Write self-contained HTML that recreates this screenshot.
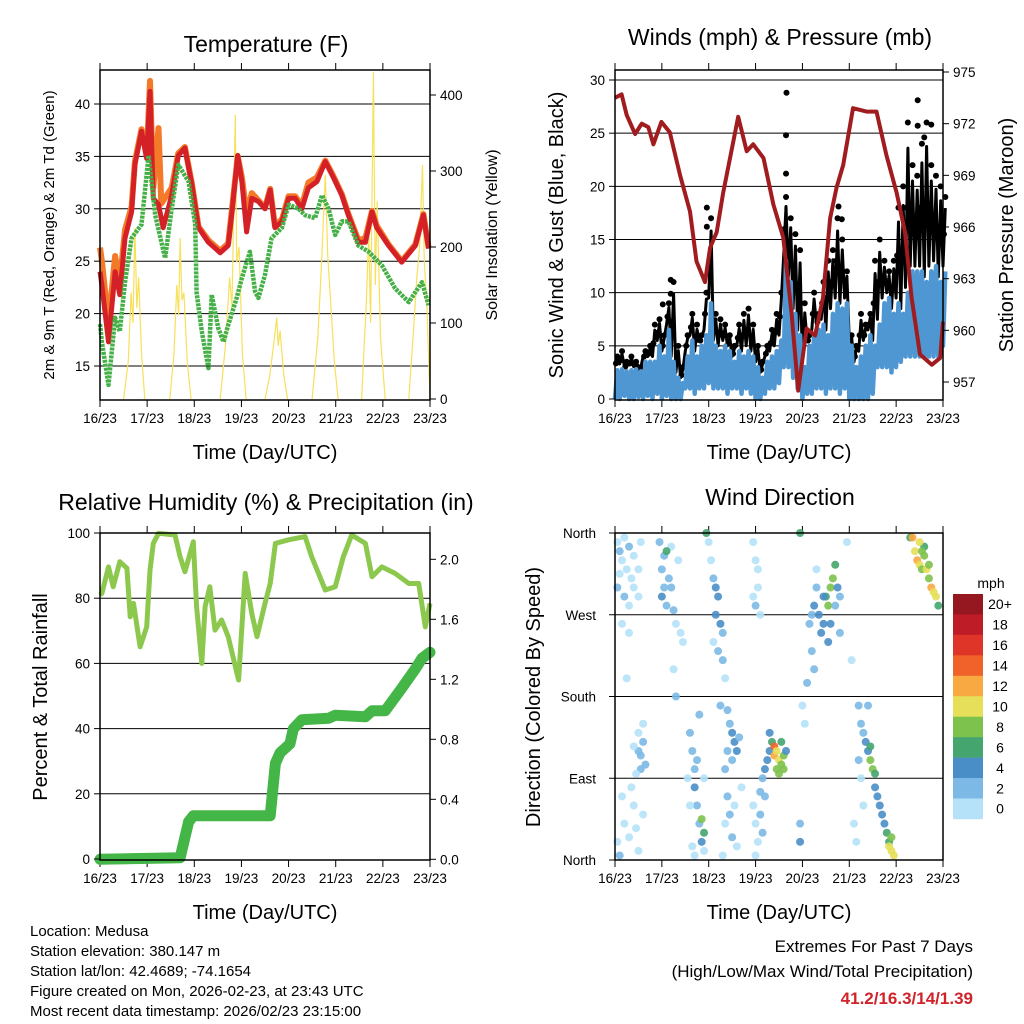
<!DOCTYPE html>
<html><head><meta charset="utf-8"><style>
html,body{margin:0;padding:0;background:#fff}
svg{display:block;font-family:"Liberation Sans",Arial,sans-serif}
</style></head><body>
<svg id="svg" width="1024" height="1024" viewBox="0 0 1024 1024">
<g id="p1"></g>
<g id="p2"></g>
<g id="p3"></g>
<g id="p4"></g>
<g font-size="15" fill="#000">
<text x="30" y="936">Location: Medusa</text>
<text x="30" y="956">Station elevation: 380.147 m</text>
<text x="30" y="976">Station lat/lon: 42.4689; -74.1654</text>
<text x="30" y="996">Figure created on Mon, 2026-02-23, at 23:43 UTC</text>
<text x="30" y="1016">Most recent data timestamp: 2026/02/23 23:15:00</text>
</g>
<g text-anchor="end">
<text x="973" y="952" font-size="17">Extremes For Past 7 Days</text>
<text x="973" y="977" font-size="17">(High/Low/Max Wind/Total Precipitation)</text>
<text x="973" y="1004" font-size="17" font-weight="bold" fill="#d0232a">41.2/16.3/14/1.39</text>
</g>
</svg>
<script>
const dayLabels=["16/23","17/23","18/23","19/23","20/23","21/23","22/23","23/23"];
const tempTicks=[15,20,25,30,35,40];
const solarTicks=[0,100,200,300,400];
const red2m=[[0,24],[0.04,22.7],[0.18,17.3],[0.32,24],[0.42,21.8],[0.53,27.2],[0.67,29.7],[0.74,34.2],[0.88,37.4],[0.99,34.8],[1.06,41.2],[1.13,31],[1.24,30.4],[1.34,28.2],[1.52,31.3],[1.66,35.1],[1.8,35.8],[1.95,32.3],[2.09,28.2],[2.3,26.8],[2.55,25.8],[2.72,26.5],[2.8,29.7],[2.92,35.1],[3.01,32.6],[3.11,27.8],[3.22,31],[3.36,30.7],[3.5,30],[3.61,31.8],[3.71,28.2],[3.86,28.8],[4.0,31],[4.14,31],[4.28,30],[4.42,32],[4.6,32.6],[4.78,34.5],[4.95,33],[5.13,31.3],[5.27,29.4],[5.48,26.8],[5.63,26.8],[5.77,29.7],[5.87,28.2],[6.12,26.5],[6.4,24.9],[6.69,26.5],[6.86,29.4],[6.97,26.2]];
const orange9m=[[0,26.3],[0.04,25],[0.18,19],[0.32,25.5],[0.42,23],[0.53,28],[0.67,30.2],[0.74,34.5],[0.88,37.6],[0.99,35],[1.06,42.2],[1.13,32],[1.24,37.7],[1.3,30.5],[1.52,32],[1.66,35.3],[1.8,35.9],[1.95,32.4],[2.09,28.3],[2.3,27],[2.55,26],[2.72,26.7],[2.8,30],[2.92,35],[3.01,33],[3.11,29.5],[3.22,31.5],[3.36,30.8],[3.5,30.1],[3.61,31.9],[3.71,28.4],[3.86,29],[4.0,31.2],[4.14,31.2],[4.28,30.3],[4.42,32.5],[4.6,33],[4.78,34.6],[4.95,33.1],[5.13,31.4],[5.27,29.5],[5.48,27],[5.63,27.2],[5.77,29.8],[5.87,28.4],[6.12,26.6],[6.4,25],[6.69,26.6],[6.86,29.5],[6.97,26.3]];
const dew2m=[[0,19],[0.04,17.3],[0.18,13.2],[0.32,19.6],[0.42,18.3],[0.53,23],[0.67,27.2],[0.88,28.5],[1.03,35.1],[1.17,29.4],[1.38,25.3],[1.52,30],[1.66,34.2],[1.88,32.6],[2.02,28.5],[2.05,22],[2.16,18.3],[2.3,14.8],[2.37,21.8],[2.51,18.6],[2.62,17.3],[2.72,18.9],[2.9,21.5],[3.01,23.4],[3.18,25.9],[3.29,22.1],[3.36,21.5],[3.5,23.7],[3.64,27.2],[3.86,28.2],[4.0,30.4],[4.21,30],[4.35,29.4],[4.56,29.1],[4.71,31.3],[4.85,30],[4.99,27.5],[5.13,28.8],[5.27,28.8],[5.48,26.5],[5.7,25.9],[5.98,24.6],[6.26,22.4],[6.55,21.1],[6.83,23],[6.97,20.8]];
const solarDays=[
[[0.5,0],[0.6,50],[0.66,140],[0.7,100],[0.74,225],[0.78,120],[0.82,160],[0.88,60],[0.95,0]],
[[1.48,0],[1.57,60],[1.63,150],[1.67,110],[1.7,212],[1.74,130],[1.78,140],[1.85,50],[1.93,0]],
[[2.55,0],[2.66,70],[2.75,160],[2.8,120],[2.87,374],[2.9,180],[2.95,200],[3.02,60],[3.1,0]],
[[3.5,0],[3.6,30],[3.7,80],[3.75,107],[3.78,70],[3.82,90],[3.9,30],[3.98,0]],
[[4.5,0],[4.62,80],[4.7,180],[4.78,295],[4.83,190],[4.9,120],[4.97,50],[5.05,0]],
[[5.55,0],[5.65,130],[5.7,220],[5.74,100],[5.8,430],[5.84,150],[5.88,260],[5.95,80],[6.05,0]],
[[6.55,0],[6.65,90],[6.72,160],[6.78,200],[6.84,308],[6.88,180],[6.93,130],[7.0,0]]];
const windTicks=[0,5,10,15,20,25,30];
const presTicks=[957,960,963,966,969,972,975];
const pressure=[[0,973.5],[0.14,973.7],[0.25,972.5],[0.43,971.4],[0.57,972],[0.71,971.8],[0.82,970.8],[0.99,972.1],[1.17,971.5],[1.39,969],[1.6,966.9],[1.74,964],[1.92,962.8],[2.03,964.8],[2.17,965.7],[2.31,968],[2.63,972.4],[2.81,970.4],[2.95,970.8],[3.17,970],[3.38,967.3],[3.59,965.4],[3.77,960.9],[3.91,956.5],[4.09,960.1],[4.27,959.7],[4.44,961.9],[4.59,966.5],[4.73,968.3],[4.87,969.6],[5.08,972.9],[5.37,972.7],[5.58,972.7],[5.79,970.2],[6.01,968],[6.19,965.7],[6.33,961.9],[6.51,958.6],[6.76,958],[6.94,958.4],[7.0,960.5]];
const windHi=[2.7,2.8,2.6,2.7,2.8,2.6,3.5,3.5,3.5,5,4,6.5,3.5,2,1.5,4,5.5,4,5,6,9,5,4.5,5,4.5,3.5,4.5,4,4.5,4,3,2,3.5,4,4.5,5.5,13,11,8,6,3,5,6,6.5,7,6,8,9,8.5,9,5,3,4,5,6,5,7,9,9.5,8,9,8,10,12,12,12,11,12,12.5,11,12];
const windLo=[0,0,0.3,0,0,0.2,0,0.3,0,0.5,0,0.3,0,0,0,1,1,0.5,1,1,1.5,1,1,1,0.5,1,1,0.5,1,0.5,0,0,0.5,1,1,1.5,3,3,2,1,0,0.5,0.5,1,1,0.5,1,1,0.5,1,0,0,0,0,0,0.5,3,3,3,2.5,3,3.5,4,4,4,4,4,4,4,4,5];
const gustHi=[4,4.5,3.5,4,3.5,3,4.5,5,7,7.5,6,9,11,5,3,6,8,7,6,10,17,8,7.5,7,6,5,7,8,8.5,7,5,3.5,5,6.5,8,10,19,17,15.5,14,9,6,10,8,11,13,14,17,15,12,6,5,8,7,8,13,15,13,12,13,18,20,26,22,21,24,26,22,21,20,19];
const gustOutliers=[[1.19,11.2],[1.19,9.9],[1.96,18],[1.96,16.2],[3.66,28.8],[3.65,24.8],[3.65,21.2],[6.46,28.1],[6.46,25.7],[6.75,25.8],[6.6,24.6],[4.77,18.1],[4.84,16.9],[1.02,8.9]];
const rhTicks=[0,20,40,60,80,100];
const precipTicks=[0.0,0.4,0.8,1.2,1.6,2.0];
const rh=[[0,81],[0.04,81.5],[0.18,89.6],[0.28,83.5],[0.42,91.2],[0.57,89.2],[0.64,74.3],[0.71,78.4],[0.85,65.1],[0.99,71.2],[1.06,88.6],[1.13,96.8],[1.24,99.9],[1.59,99.4],[1.7,92.7],[1.8,88.1],[1.98,97.3],[2.05,77.4],[2.16,60],[2.23,77.4],[2.33,83.5],[2.44,70.2],[2.58,73.3],[2.72,68.2],[2.94,54.9],[3.08,87.6],[3.22,75.3],[3.33,68.2],[3.5,78.4],[3.61,84.5],[3.72,96.8],[4.0,97.9],[4.35,98.9],[4.49,92.7],[4.78,82.5],[4.99,83.5],[5.16,92.7],[5.34,99.4],[5.63,96.8],[5.77,86.6],[5.98,89.6],[6.26,87.6],[6.55,84.5],[6.76,84.5],[6.9,71.2],[7.0,78.4]];
const precip=[[0,0],[1.7,0.01],[1.88,0.25],[1.98,0.29],[3.61,0.29],[3.72,0.64],[3.82,0.71],[4.03,0.77],[4.1,0.87],[4.28,0.93],[4.85,0.94],[4.99,0.96],[5.63,0.95],[5.77,0.99],[6.05,0.99],[6.4,1.14],[6.69,1.27],[6.83,1.34],[7.0,1.38]];
const dirLabels=["North","East","South","West","North"];
const speedBinLabels=["0","2","4","6","8","10","12","14","16","18","20+"];
const dirPoints=[[0.05,350,1],[0.1,340,2],[0.15,330,1],[0.2,355,1],[0.25,320,1],[0.3,345,2],[0.35,310,1],[0.4,335,1],[0.05,300,2],[0.1,315,1],[0.2,290,2],[0.3,280,1],[0.4,300,1],[0.5,290,1],[0.15,260,1],[0.3,250,1],[0.55,350,1],[0.5,320,1],[0.25,200,1],
[0.05,20,1],[0.1,5,2],[0.2,40,1],[0.3,25,1],[0.4,60,1],[0.5,10,1],[0.15,70,1],[0.35,80,1],[0.45,35,1],[0.6,50,1],[0.55,100,2],[0.5,120,3],[0.6,130,3],[0.55,115,2],[0.5,140,1],[0.65,105,2],[0.45,95,1],[0.6,150,1],[0.4,125,1],
[0.95,350,2],[1.0,320,3],[1.05,335,3],[1.0,290,4],[1.05,300,3],[1.1,280,3],[1.15,310,2],[1.2,345,1],[1.25,275,2],[1.3,260,1],[1.35,330,1],[1.4,250,1],[1.1,340,6],[1.2,300,2],[1.45,240,1],[1.25,210,1],[1.3,180,3],
[1.6,140,2],[1.65,120,2],[1.7,100,3],[1.7,80,4],[1.75,60,3],[1.8,40,3],[1.85,20,4],[1.85,45,8],[1.9,30,7],[1.9,10,1],[1.6,60,1],[1.65,15,1],[1.75,110,2],[1.8,160,2],[1.55,90,1],[1.9,90,1],[1.95,360,6],[1.7,5,1],
[2.05,330,1],[2.1,310,3],[2.15,300,4],[2.2,290,4],[2.15,270,4],[2.25,260,4],[2.3,250,3],[2.2,230,2],[2.3,220,2],[2.35,200,1],[2.25,170,2],[2.1,240,1],[2.0,350,1],[2.4,165,3],[2.45,150,3],[2.5,140,4],[2.55,130,4],[2.6,120,4],[2.5,110,3],[2.65,135,3],[2.4,120,2],[2.35,100,2],[2.4,70,2],[2.45,50,2],[2.5,25,3],[2.55,60,1],[2.35,40,1],[2.3,5,1],[2.6,15,1],[2.7,80,1],
[2.95,350,1],[3.0,330,1],[3.05,300,1],[3.0,280,2],[3.05,320,1],[2.95,290,1],[3.1,270,1],
[2.95,60,1],[3.0,40,1],[3.05,20,1],[3.0,5,1],[3.1,75,3],[3.15,90,3],[3.2,100,4],[3.25,110,4],[3.3,120,5],[3.2,70,2],[3.1,50,2],[3.15,30,2],
[3.35,130,7],[3.4,125,14],[3.4,115,12],[3.45,100,9],[3.5,110,10],[3.55,105,9],[3.6,100,8],[3.45,120,11],[3.5,95,9],[3.6,115,8],[3.55,130,7],[3.65,120,5],[3.3,140,4],
[3.95,360,6],[3.95,40,2],[3.95,20,4],[4.05,150,1],[4.0,170,1],[4.1,195,2],
[4.15,260,3],[4.2,270,3],[4.25,280,4],[4.3,300,3],[4.35,270,4],[4.4,250,4],[4.45,260,4],[4.5,290,6],[4.55,280,8],[4.6,300,8],[4.65,310,8],[4.7,325,6],[4.75,300,5],[4.8,290,3],[4.6,260,5],[4.55,240,4],[4.2,230,2],[4.25,210,2],[4.3,320,1],[4.45,290,4],[4.7,280,3],
[4.95,350,1],[4.8,250,2],[5.05,220,1],[5.2,170,2],[5.25,150,3],[5.3,140,3],[5.35,130,4],[5.4,120,5],[5.45,125,7],[5.45,110,8],[5.5,100,8],[5.55,95,7],[5.55,80,4],[5.6,70,4],[5.65,60,4],[5.7,50,5],[5.75,40,4],[5.8,30,6],[5.85,20,7],[5.9,10,10],[5.95,5,11],[5.9,25,8],[5.85,15,11],[5.2,110,2],[5.25,90,1],[5.3,60,1],[5.1,40,1],[5.15,20,1],[5.4,170,2],
[6.3,355,6],[6.35,355,12],[6.4,340,11],[6.45,330,12],[6.5,325,10],[6.55,320,8],[6.6,335,8],[6.65,320,10],[6.7,310,9],[6.75,300,12],[6.8,295,10],[6.85,290,10],[6.9,280,6],[6.6,345,7],[6.5,350,10],[6.55,340,9],[6.7,325,8]];
const binColors=["#b5e2f8","#7cb9e6","#4a8ec8","#45a56f","#7dc24d","#e6df59","#f9a942","#f06229","#df3428","#be1d27","#951820"];

const NS="http://www.w3.org/2000/svg";
function mk(parent,tag,attrs,txt){const e=document.createElementNS(NS,tag);for(const k in attrs)e.setAttribute(k,attrs[k]);if(txt!==undefined)e.textContent=txt;parent.appendChild(e);return e;}
function lin(d0,d1,r0,r1){return v=>r0+(v-d0)/(d1-d0)*(r1-r0);}
function pathOf(pts,xs,ys){return pts.map((p,i)=>(i?"L":"M")+xs(p[0]).toFixed(1)+" "+ys(p[1]).toFixed(1)).join("");}

function frame(g,box,xs,title,titleY){
  const [x0,y0,x1,y1]=box;
  const t=mk(g,"text",{x:(x0+x1)/2+1,y:titleY,"text-anchor":"middle","font-size":"23"},title);
  
  
  for(let i=0;i<8;i++){
    const x=xs(i);
    const a=mk(g,"line",{x1:x,x2:x,y1:y0-7,y2:y0,stroke:"#000","stroke-width":1});
    
    
    const b=mk(g,"line",{x1:x,x2:x,y1:y1,y2:y1+7,stroke:"#000","stroke-width":1});
    
    
    const l=mk(g,"text",{x:x,y:y1+23,"text-anchor":"middle","font-size":"13.5"},dayLabels[i]);
    
    
  }
  const xt=mk(g,"text",{x:(x0+x1)/2,y:y1+59,"text-anchor":"middle","font-size":"20"},"Time (Day/UTC)");
  
  
}
function border(g,box){
  const r=mk(g,"rect",{x:box[0],y:box[1],width:box[2]-box[0],height:box[3]-box[1],fill:"none",stroke:"#000","stroke-width":1.5});
  
  
}
function yAxis(g,ticks,ys,x,side,fmt){
  ticks.forEach(v=>{
    const y=ys(v);
    const tk=mk(g,"line",{x1:x,x2:x+(side<0?-6:6),y1:y,y2:y,stroke:"#000"});
    
    
    const l=mk(g,"text",{x:x+(side<0?-10:10),y:y+5,"text-anchor":side<0?"end":"start","font-size":"13.5"},fmt?fmt(v):String(v));
    
    
  });
}
function grid(g,ticks,ys,x0,x1){
  ticks.forEach(v=>{const y=ys(v);
    const l=mk(g,"line",{x1:x0,x2:x1,y1:y,y2:y,stroke:"#000","stroke-width":1});
    
    });
}
function vtitle(g,x,y,txt,size){
  const t=mk(g,"text",{x:x,y:y,"text-anchor":"middle","font-size":size,transform:`rotate(-90 ${x} ${y})`},txt);
  
  
}

// Panel 1
(function(){
  const g=document.getElementById("p1");const box=[100,70,430,400];
  const xs=lin(0,7,100,430), ys=lin(15,40,366,104), ss=lin(0,400,399,95);
  frame(g,box,xs,"Temperature (F)",52);
  grid(g,tempTicks,ys,100,430);
  solarDays.forEach(d=>{const p=mk(g,"path",{d:pathOf(d,xs,ss),fill:"none",stroke:"#f7e05a","stroke-width":1.2});
    
    });
  const o=mk(g,"path",{d:pathOf(orange9m,xs,ys),fill:"none",stroke:"#f47a2a","stroke-width":6,"stroke-linejoin":"round"});
  
  
  const r=mk(g,"path",{d:pathOf(red2m,xs,ys),fill:"none",stroke:"#d42027","stroke-width":5,"stroke-linejoin":"round"});
  
  
  const dd=mk(g,"path",{d:pathOf(dew2m,xs,ys),fill:"none",stroke:"#45b046","stroke-width":4.5,"stroke-dasharray":"3 1","stroke-linejoin":"round"});
  
  
  border(g,box);
  yAxis(g,tempTicks,ys,100,-1);
  yAxis(g,solarTicks,ss,430,1);
  vtitle(g,54,235,"2m & 9m T (Red, Orange) & 2m Td (Green)",15);
  vtitle(g,497,235,"Solar Insolation (Yellow)",16);
})();

// Panel 2
(function(){
  const g=document.getElementById("p2");const box=[615,70,943,400];
  const xs=lin(0,7,615,943), ys=lin(0,30,399,80), ps=lin(957,975,382,72);
  frame(g,box,xs,"Winds (mph) & Pressure (mb)",45);
  grid(g,windTicks.slice(1),ys,615,943);
  let dz="";windHi.forEach((v,i)=>{const t=i*0.1;dz+=(i?"L":"M")+xs(t).toFixed(1)+" "+ys(v+0.5).toFixed(1)+"L"+xs(t+0.05).toFixed(1)+" "+ys(gustHi[i]*0.85+v*0.15).toFixed(1);});
  const gz=mk(g,"path",{d:dz,fill:"none",stroke:"#000","stroke-width":3,"stroke-linejoin":"round"});
  
  
  gustHi.forEach((v,i)=>{
    const c=mk(g,"circle",{cx:xs(i*0.1+0.05),cy:ys(v),r:3,fill:"#000"});
    
    
    const c2=mk(g,"circle",{cx:xs(i*0.1+0.02),cy:ys((v+windHi[i])/2),r:3,fill:"#000"});
    
    
  });
  gustOutliers.forEach(p=>{const c=mk(g,"circle",{cx:xs(p[0]),cy:ys(p[1]),r:3,fill:"#000"});
    
    });
  let bz="";windLo.forEach((v,i)=>{const t=i*0.1;bz+=(i?"L":"M")+xs(t).toFixed(1)+" "+ys(v).toFixed(1)+"L"+xs(t+0.05).toFixed(1)+" "+ys(windHi[i]).toFixed(1);});
  const bl=mk(g,"path",{d:bz,fill:"none",stroke:"#4f97d2","stroke-width":4.5,"stroke-linejoin":"round"});
  
  
  const pr=mk(g,"path",{d:pathOf(pressure,xs,ps),fill:"none",stroke:"#a01c1f","stroke-width":4,"stroke-linejoin":"round"});
  
  
  border(g,box);
  yAxis(g,windTicks,ys,615,-1);
  yAxis(g,presTicks,ps,943,1);
  vtitle(g,563,235,"Sonic Wind & Gust (Blue, Black)",20);
  vtitle(g,1013,235,"Station Pressure (Maroon)",20);
})();

// Panel 3
(function(){
  const g=document.getElementById("p3");const box=[100,533,430,860];
  const xs=lin(0,7,100,430), ys=lin(0,100,859,533), ps=lin(0,2,859.3,559.3);
  frame(g,box,xs,"Relative Humidity (%) & Precipitation (in)",510);
  grid(g,rhTicks.slice(1,5),ys,100,430);
  const r=mk(g,"path",{d:pathOf(rh,xs,ys),fill:"none",stroke:"#8dc84e","stroke-width":5,"stroke-linejoin":"round"});
  
  
  const p=mk(g,"path",{d:pathOf(precip,xs,ps),fill:"none",stroke:"#44b547","stroke-width":11,"stroke-linejoin":"round","stroke-linecap":"round"});
  
  
  border(g,box);
  yAxis(g,rhTicks,ys,100,-1);
  yAxis(g,precipTicks,ps,430,1,v=>v.toFixed(1));
  vtitle(g,47,697,"Percent & Total Rainfall",20);
})();

// Panel 4
(function(){
  const g=document.getElementById("p4");const box=[615,533,943,860];
  const xs=lin(0,7,615,943), ys=lin(0,360,860,533);
  frame(g,box,xs,"Wind Direction",505);
  grid(g,[90,180,270],ys,615,943);
  dirPoints.forEach(p=>{
    const bin=Math.min(10,Math.floor(p[2]/2));
    const c=mk(g,"circle",{cx:xs(p[0]),cy:ys(p[1]),r:4,fill:binColors[bin],"fill-opacity":0.9});
    
    
  });
  border(g,box);
  [0,90,180,270,360].forEach((v,i)=>{
    const y=ys(v);
    const tk=mk(g,"line",{x1:615,x2:609,y1:y,y2:y,stroke:"#000"});
    
    
    const l=mk(g,"text",{x:596,y:y+5,"text-anchor":"end","font-size":"13.5"},dirLabels[i]);
    
    
  });
  vtitle(g,540,697,"Direction (Colored By Speed)",20);
  const lg=mk(g,"g",{});
  
  
  const u=mk(lg,"text",{x:991,y:588,"text-anchor":"middle","font-size":"14"},"mph");
  
  
  const top=594,h=20.45;
  for(let i=0;i<11;i++){
    const k=10-i;
    const rc=mk(lg,"rect",{x:953,y:top+i*h,width:30,height:h+0.3,fill:binColors[k]});
    
    
    const t=mk(lg,"text",{x:1000,y:top+i*h+h/2+5,"text-anchor":"middle","font-size":"14"},speedBinLabels[k]);
    
    
  }
})();
</script>
</body></html>
